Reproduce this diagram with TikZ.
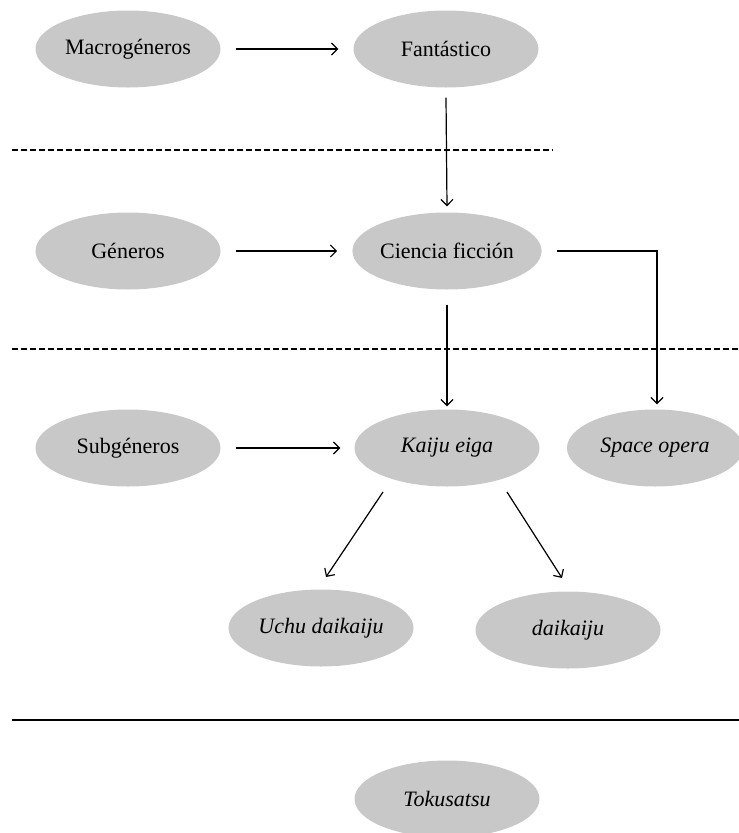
\documentclass[tikz,border=0pt]{standalone}
\usepackage{fontspec}
\setmainfont{Liberation Serif}
\usetikzlibrary{shapes.geometric,arrows.meta,calc}
\definecolor{ellgray}{RGB}{200,200,200}
\begin{document}
\begin{tikzpicture}[x=1pt,y=-1pt,
  ell/.style={ellipse, fill=ellgray, minimum width=185pt, minimum height=77pt, inner sep=0pt, font=\fontsize{22}{26}\selectfont},
  conn/.style={line width=1.2pt, -{Straight Barb[length=6pt,width=12pt]}},
  sep/.style={line width=1.3pt, dash pattern=on 6pt off 3pt}]
\useasboundingbox (0,0) rectangle (739,833);
\node[ell] (macro) at (128,49) {Macrogéneros};
\node[ell] (fant) at (446,49) {Fantástico};
\node[ell] (gen) at (128,251) {Géneros};
\node[ell] (cf) at (447,251) {Ciencia ficción};
\node[ell] (sub) at (128,448) {Subgéneros};
\node[ell] (kaiju) at (447,448) {\itshape Kaiju eiga};
\node[ell, minimum width=176pt] (space) at (655,448) {\itshape Space opera};
\node[ell] (uchu) at (321,628) {\itshape Uchu daikaiju};
\node[ell] (dai) at (568,630) {\itshape daikaiju};
\node[ell] (toku) at (447,799) {\itshape Tokusatsu};

\draw[sep] (12,150) -- (553,150);
\draw[sep] (12,349) -- (739,349);
\draw[line width=1.6pt] (12,720) -- (739,720);

\draw[conn] ($(macro.east)+(15,0)$) -- ($(fant.west)+(-15,0)$);
\draw[conn] ($(gen.east)+(15,0)$) -- ($(cf.west)+(-15,0)$);
\draw[conn] ($(sub.east)+(15,0)$) -- ($(kaiju.west)+(-14,0)$);
\draw[conn] ($(fant.south)+(0,10)$) -- ($(cf.north)+(0,-6)$);
\draw[conn] ($(cf.south)+(0,15)$) -- ($(kaiju.north)+(0,-3)$);
\draw[conn] ($(cf.east)+(15,0)$) -| ($(space.north)+(2,-5)$);
\draw[conn] ($(kaiju.center)+(-64,44)$) -- ($(uchu.center)+(5,-51)$);
\draw[conn] ($(kaiju.center)+(60,44)$) -- ($(dai.center)+(-6,-52)$);
\end{tikzpicture}
\end{document}
